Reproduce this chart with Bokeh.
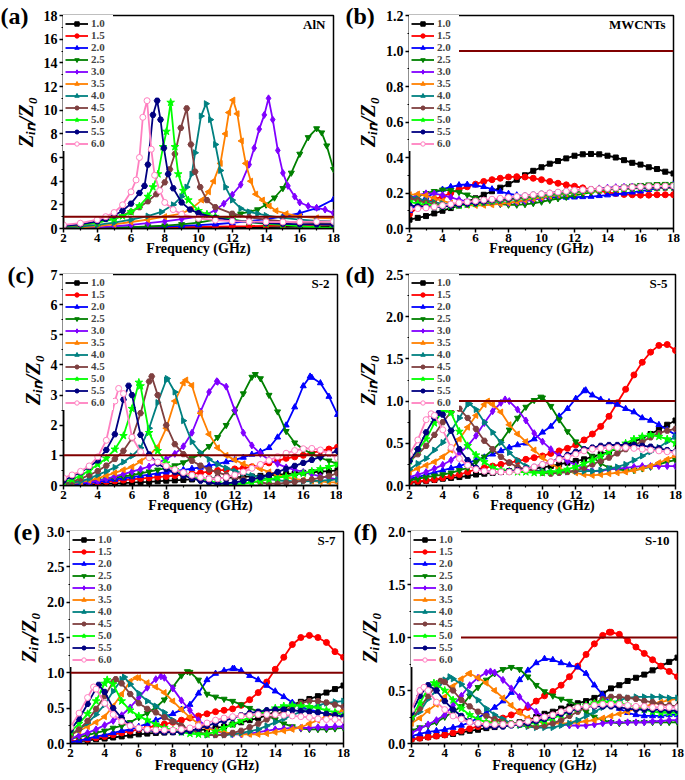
import math
from bokeh.plotting import figure
from bokeh.layouts import column, row
from bokeh.models import (Range1d, FixedTicker, PrintfTickFormatter, Label, Span,
                          Legend, LegendItem, Title)
from bokeh.embed import file_html
from bokeh.resources import INLINE

# ---------------------------------------------------------------- data
THICKNESS = ["1.0", "1.5", "2.0", "2.5", "3.0", "3.5", "4.0", "4.5", "5.0", "5.5", "6.0"]
FREQ = [2.0, 2.5, 3.0, 3.5, 4.0, 4.5, 5.0, 5.5, 6.0, 6.5, 7.0, 7.5, 8.0, 8.5, 9.0, 9.5,
        10.0, 10.5, 11.0, 11.5, 12.0, 12.5, 13.0, 13.5, 14.0, 14.5, 15.0, 15.5, 16.0,
        16.5, 17.0, 17.5, 18.0]
X_TICKS = [2, 4, 6, 8, 10, 12, 14, 16, 18]
REF_LEVEL = 1.0

# (a) AlN  - explicit frequency / value pairs
ALN_F10 = [2, 3, 4, 5, 6, 7, 8, 9, 10, 11, 12, 13, 14, 15, 16, 17, 18]
ALN_Z10 = [0.0, 0.01, 0.02, 0.03, 0.04, 0.05, 0.06, 0.07, 0.08, 0.09, 0.1, 0.11, 0.12, 0.13, 0.15, 0.17, 0.19]
ALN_F15 = [2, 3, 4, 5, 6, 7, 8, 9, 10, 11, 12, 13, 14, 15, 16, 17, 18]
ALN_Z15 = [0.01, 0.02, 0.03, 0.05, 0.06, 0.08, 0.1, 0.12, 0.14, 0.16, 0.18, 0.2, 0.23, 0.26, 0.29, 0.32, 0.36]
ALN_F20 = [2, 3, 4, 5, 6, 7, 8, 9, 10, 11, 12, 13, 14, 15, 16, 17, 18]
ALN_Z20 = [0.02, 0.03, 0.05, 0.07, 0.1, 0.13, 0.17, 0.22, 0.28, 0.36, 0.47, 0.62, 0.8, 1.0, 1.3, 1.72, 2.45]
ALN_F25 = [2, 3, 4, 5, 6, 7, 8, 9, 10, 11, 12, 12.5, 13, 13.5, 14, 14.5, 15, 15.5, 16, 16.5, 17, 17.3, 17.6, 18]
ALN_Z25 = [0.01, 0.03, 0.05, 0.08, 0.12, 0.17, 0.24, 0.35, 0.5, 0.75, 1.05, 1.25, 1.4, 1.6, 2.0, 2.6, 3.4, 4.7, 6.3, 7.7, 8.45, 8.1, 7.0, 5.0]
ALN_F30 = [2, 3, 4, 5, 6, 7, 8, 9, 10, 10.5, 11, 11.5, 12, 12.5, 13, 13.3, 13.6, 13.9, 14.15, 14.4, 14.7, 15, 15.3, 15.7, 16, 16.5, 17, 17.5, 18]
ALN_Z30 = [0.02, 0.05, 0.1, 0.18, 0.3, 0.45, 0.6, 0.8, 1.0, 1.2, 1.55, 2.1, 2.85, 3.7, 5.4, 6.8, 8.4, 9.6, 11.0, 9.2, 6.6, 4.7, 3.6, 2.7, 2.2, 1.9, 1.75, 1.6, 1.3]
ALN_F35 = [2, 3, 4, 5, 6, 7, 8, 9, 9.6, 10.2, 10.6, 10.9, 11.3, 11.6, 11.8, 12.05, 12.3, 12.55, 12.8, 13.1, 13.4, 13.8, 14.2, 14.6, 15.2, 16, 17, 18]
ALN_Z35 = [0.02, 0.08, 0.2, 0.35, 0.55, 0.75, 1.0, 1.25, 1.7, 2.4, 3.1, 4.0, 5.5, 8.0, 9.8, 10.85, 9.7, 7.4, 5.5, 4.0, 2.9, 2.4, 1.9, 1.5, 1.25, 1.0, 0.9, 0.85]
ALN_F40 = [2, 3, 4, 5, 6, 7, 7.8, 8.5, 9, 9.3, 9.6, 9.8, 10.15, 10.45, 10.7, 11, 11.3, 11.6, 12, 12.5, 13, 13.5, 14, 15, 16, 17, 18]
ALN_Z40 = [0.05, 0.15, 0.3, 0.5, 0.75, 1.05, 1.4, 2.0, 2.7, 3.5, 4.6, 6.4, 9.5, 10.55, 9.2, 7.1, 4.9, 3.5, 2.4, 1.7, 1.4, 1.25, 1.1, 0.9, 0.75, 0.65, 0.6]
ALN_F45 = [2, 3, 4, 5, 6, 6.5, 7, 7.5, 8, 8.3, 8.6, 8.95, 9.3, 9.55, 9.8, 10.1, 10.5, 11, 12, 13, 14, 15, 16, 17, 18]
ALN_Z45 = [0.1, 0.25, 0.5, 0.85, 1.4, 1.8, 2.3, 2.9, 3.9, 5.0, 6.3, 8.5, 10.15, 7.1, 4.8, 3.5, 2.4, 1.8, 1.25, 0.95, 0.75, 0.6, 0.5, 0.45, 0.4]
ALN_F50 = [2, 3, 4, 5, 5.5, 6, 6.5, 7, 7.3, 7.6, 7.9, 8.1, 8.35, 8.6, 8.8, 9.1, 9.4, 10, 10.5, 11, 12, 13, 14, 15, 16, 17, 18]
ALN_Z50 = [0.15, 0.3, 0.5, 0.8, 1.05, 1.4, 1.9, 2.7, 3.5, 4.6, 6.9, 8.2, 10.65, 6.9, 4.6, 3.2, 2.4, 1.5, 1.2, 1.0, 0.75, 0.55, 0.4, 0.3, 0.2, 0.1, 0.05]
ALN_F55 = [2, 3, 4, 4.5, 5, 5.5, 6, 6.5, 6.8, 7.0, 7.3, 7.55, 7.75, 7.95, 8.2, 8.5, 9, 9.5, 10, 11, 12, 13, 14, 15, 16, 17, 18]
ALN_Z55 = [0.2, 0.35, 0.6, 0.8, 1.1, 1.5, 2.1, 3.0, 3.6, 5.4, 9.6, 10.8, 9.2, 6.8, 4.6, 3.4, 2.2, 1.6, 1.3, 0.9, 0.7, 0.55, 0.45, 0.4, 0.35, 0.35, 0.35]
ALN_F60 = [2, 3, 4, 4.5, 5, 5.5, 6, 6.3, 6.5, 6.7, 6.95, 7.2, 7.4, 7.7, 8, 8.5, 9, 10, 11, 12, 13, 14, 15, 16, 17, 18]
ALN_Z60 = [0.3, 0.45, 0.75, 1.0, 1.35, 2.0, 3.1, 4.1, 6.0, 9.4, 10.8, 6.7, 4.5, 3.2, 2.2, 1.6, 1.2, 0.85, 0.7, 0.62, 0.58, 0.56, 0.55, 0.56, 0.58, 0.6]

# (b) MWCNTs - values on FREQ
MW_10 = [0.05, 0.06, 0.07, 0.085, 0.10, 0.115, 0.13, 0.15, 0.17, 0.19, 0.21, 0.23, 0.25, 0.275, 0.30, 0.325, 0.345, 0.365, 0.38, 0.395, 0.41, 0.418, 0.42, 0.418, 0.41, 0.40, 0.385, 0.37, 0.36, 0.345, 0.335, 0.32, 0.31]
MW_15 = [0.08, 0.12, 0.145, 0.165, 0.18, 0.20, 0.22, 0.235, 0.25, 0.265, 0.275, 0.283, 0.29, 0.292, 0.29, 0.283, 0.275, 0.265, 0.255, 0.246, 0.238, 0.229, 0.22, 0.212, 0.204, 0.197, 0.192, 0.19, 0.188, 0.188, 0.19, 0.19, 0.19]
MW_20 = [0.10, 0.14, 0.175, 0.20, 0.22, 0.235, 0.245, 0.248, 0.243, 0.235, 0.222, 0.208, 0.196, 0.188, 0.182, 0.178, 0.176, 0.175, 0.175, 0.175, 0.176, 0.178, 0.18, 0.184, 0.188, 0.193, 0.198, 0.204, 0.21, 0.218, 0.226, 0.236, 0.248]
MW_25 = [0.16, 0.18, 0.198, 0.21, 0.218, 0.215, 0.205, 0.19, 0.17, 0.155, 0.145, 0.137, 0.133, 0.133, 0.136, 0.142, 0.15, 0.16, 0.169, 0.177, 0.186, 0.195, 0.204, 0.213, 0.222, 0.229, 0.235, 0.24, 0.244, 0.247, 0.249, 0.25, 0.25]
MW_30 = [0.17, 0.188, 0.198, 0.197, 0.188, 0.175, 0.162, 0.152, 0.145, 0.141, 0.14, 0.141, 0.144, 0.149, 0.155, 0.162, 0.17, 0.179, 0.188, 0.197, 0.205, 0.213, 0.22, 0.226, 0.23, 0.233, 0.235, 0.236, 0.236, 0.236, 0.236, 0.236, 0.236]
MW_35 = [0.19, 0.194, 0.186, 0.17, 0.155, 0.143, 0.135, 0.131, 0.13, 0.131, 0.134, 0.139, 0.145, 0.152, 0.16, 0.168, 0.176, 0.183, 0.19, 0.196, 0.201, 0.206, 0.211, 0.215, 0.219, 0.222, 0.225, 0.227, 0.229, 0.23, 0.231, 0.232, 0.232]
MW_40 = [0.18, 0.168, 0.156, 0.147, 0.14, 0.136, 0.135, 0.137, 0.14, 0.145, 0.15, 0.155, 0.16, 0.166, 0.172, 0.178, 0.185, 0.19, 0.195, 0.20, 0.205, 0.21, 0.214, 0.217, 0.22, 0.223, 0.225, 0.227, 0.228, 0.229, 0.23, 0.23, 0.23]
MW_45 = [0.17, 0.158, 0.146, 0.137, 0.131, 0.129, 0.13, 0.134, 0.139, 0.145, 0.151, 0.157, 0.163, 0.169, 0.176, 0.183, 0.19, 0.195, 0.20, 0.205, 0.209, 0.212, 0.215, 0.218, 0.22, 0.222, 0.224, 0.226, 0.228, 0.229, 0.23, 0.23, 0.23]
MW_50 = [0.15, 0.14, 0.132, 0.127, 0.125, 0.126, 0.13, 0.135, 0.141, 0.148, 0.155, 0.162, 0.169, 0.175, 0.18, 0.185, 0.19, 0.195, 0.20, 0.205, 0.21, 0.213, 0.216, 0.219, 0.221, 0.223, 0.225, 0.227, 0.229, 0.231, 0.232, 0.234, 0.235]
MW_55 = [0.13, 0.124, 0.121, 0.121, 0.124, 0.129, 0.135, 0.14, 0.145, 0.152, 0.16, 0.165, 0.17, 0.177, 0.184, 0.19, 0.195, 0.20, 0.205, 0.209, 0.213, 0.216, 0.219, 0.222, 0.224, 0.226, 0.228, 0.23, 0.231, 0.232, 0.233, 0.234, 0.235]
MW_60 = [0.11, 0.112, 0.116, 0.122, 0.13, 0.137, 0.145, 0.15, 0.155, 0.16, 0.165, 0.17, 0.175, 0.18, 0.185, 0.19, 0.195, 0.20, 0.205, 0.21, 0.215, 0.218, 0.22, 0.223, 0.225, 0.228, 0.23, 0.233, 0.235, 0.237, 0.238, 0.239, 0.24]

# (c) S-2
S2_10 = [0.0, 0.01, 0.02, 0.03, 0.045, 0.06, 0.07, 0.08, 0.095, 0.11, 0.12, 0.14, 0.16, 0.17, 0.185, 0.2, 0.21, 0.225, 0.24, 0.255, 0.27, 0.285, 0.3, 0.32, 0.34, 0.36, 0.38, 0.4, 0.42, 0.44, 0.46, 0.48, 0.5]
S2_15 = [0.02, 0.04, 0.06, 0.08, 0.1, 0.13, 0.15, 0.18, 0.2, 0.23, 0.25, 0.28, 0.3, 0.33, 0.36, 0.39, 0.42, 0.46, 0.5, 0.52, 0.55, 0.58, 0.62, 0.68, 0.75, 0.82, 0.9, 0.95, 1.0, 1.08, 1.15, 1.21, 1.27]
S2_20 = [0.02, 0.04, 0.07, 0.1, 0.13, 0.16, 0.2, 0.24, 0.28, 0.32, 0.36, 0.4, 0.44, 0.48, 0.52, 0.56, 0.6, 0.66, 0.72, 0.78, 0.85, 0.93, 1.03, 1.12, 1.25, 1.6, 2.0, 2.6, 3.3, 3.58, 3.4, 2.95, 2.35]
S2_25 = [0.03, 0.06, 0.1, 0.14, 0.18, 0.22, 0.26, 0.3, 0.34, 0.4, 0.46, 0.52, 0.58, 0.66, 0.76, 0.9, 1.05, 1.3, 1.6, 2.0, 2.45, 3.05, 3.6, 3.55, 3.0, 2.45, 1.8, 1.42, 1.2, 1.05, 0.92, 0.82, 0.72]
S2_30 = [0.05, 0.08, 0.1, 0.13, 0.15, 0.22, 0.3, 0.38, 0.46, 0.54, 0.63, 0.75, 0.88, 1.05, 1.3, 1.75, 2.45, 3.1, 3.44, 3.28, 2.5, 1.75, 1.33, 1.05, 0.85, 0.72, 0.6, 0.52, 0.45, 0.38, 0.3, 0.25, 0.2]
S2_35 = [0.05, 0.08, 0.12, 0.17, 0.24, 0.33, 0.42, 0.52, 0.62, 0.8, 1.0, 1.28, 1.9, 2.8, 3.4, 3.32, 2.4, 1.7, 1.25, 1.0, 0.85, 0.72, 0.62, 0.55, 0.45, 0.35, 0.27, 0.22, 0.18, 0.15, 0.13, 0.11, 0.1]
S2_40 = [0.05, 0.1, 0.14, 0.23, 0.35, 0.47, 0.6, 0.78, 0.98, 1.25, 1.9, 2.75, 3.5, 3.1, 2.15, 1.45, 1.09, 0.87, 0.7, 0.58, 0.48, 0.4, 0.33, 0.27, 0.21, 0.17, 0.15, 0.14, 0.14, 0.15, 0.16, 0.18, 0.2]
S2_45 = [0.05, 0.13, 0.23, 0.34, 0.48, 0.66, 0.88, 1.15, 1.57, 2.4, 3.45, 3.0, 2.0, 1.37, 1.04, 0.82, 0.66, 0.53, 0.43, 0.35, 0.27, 0.2, 0.15, 0.1, 0.06, 0.06, 0.09, 0.12, 0.16, 0.2, 0.25, 0.32, 0.4]
S2_50 = [0.11, 0.2, 0.33, 0.5, 0.7, 0.9, 1.2, 1.65, 2.55, 3.3, 1.75, 1.15, 0.74, 0.52, 0.4, 0.32, 0.22, 0.15, 0.08, 0.04, 0.03, 0.06, 0.1, 0.15, 0.2, 0.25, 0.3, 0.35, 0.4, 0.47, 0.55, 0.62, 0.7]
S2_55 = [0.16, 0.3, 0.44, 0.62, 0.83, 1.18, 1.7, 2.85, 3.0, 1.68, 1.03, 0.73, 0.55, 0.44, 0.33, 0.24, 0.16, 0.1, 0.05, 0.07, 0.1, 0.15, 0.2, 0.27, 0.35, 0.45, 0.55, 0.65, 0.75, 0.85, 0.95, 1.05, 1.15]
S2_60 = [0.25, 0.35, 0.47, 0.65, 0.95, 1.5, 2.8, 3.05, 1.6, 1.12, 0.92, 0.78, 0.65, 0.53, 0.43, 0.34, 0.27, 0.22, 0.22, 0.27, 0.35, 0.45, 0.57, 0.7, 0.83, 0.96, 1.07, 1.16, 1.22, 1.23, 1.18, 1.06, 0.9]
S2_PEAK_F = [None, None, 16.4, 13.2, 10.95, 9.15, 8.05, 7.15, 6.4, 5.8, 5.22]
S2_PEAK_Z = [None, None, 3.62, 3.69, 3.46, 3.5, 3.55, 3.62, 3.42, 3.31, 3.22]

# (d) S-5
S5_10 = [0.03, 0.04, 0.055, 0.065, 0.08, 0.09, 0.1, 0.115, 0.13, 0.14, 0.15, 0.16, 0.17, 0.18, 0.19, 0.2, 0.215, 0.23, 0.25, 0.27, 0.29, 0.31, 0.34, 0.37, 0.4, 0.44, 0.48, 0.52, 0.56, 0.61, 0.66, 0.72, 0.77]
S5_15 = [0.04, 0.05, 0.06, 0.07, 0.09, 0.11, 0.13, 0.16, 0.19, 0.21, 0.23, 0.25, 0.27, 0.29, 0.31, 0.33, 0.35, 0.38, 0.41, 0.44, 0.48, 0.54, 0.61, 0.7, 0.82, 0.98, 1.14, 1.31, 1.46, 1.58, 1.66, 1.67, 1.6]
S5_20 = [0.08, 0.1, 0.13, 0.155, 0.18, 0.205, 0.23, 0.265, 0.3, 0.335, 0.37, 0.41, 0.45, 0.48, 0.5, 0.55, 0.63, 0.7, 0.82, 0.91, 1.03, 1.12, 1.07, 1.02, 0.99, 0.96, 0.91, 0.87, 0.8, 0.77, 0.72, 0.66, 0.6]
S5_25 = [0.06, 0.08, 0.1, 0.115, 0.13, 0.15, 0.18, 0.21, 0.28, 0.34, 0.42, 0.52, 0.66, 0.8, 0.93, 1.01, 1.04, 0.94, 0.78, 0.64, 0.52, 0.43, 0.34, 0.26, 0.21, 0.19, 0.18, 0.18, 0.2, 0.22, 0.25, 0.28, 0.3]
S5_30 = [0.1, 0.13, 0.16, 0.2, 0.245, 0.3, 0.38, 0.47, 0.59, 0.74, 0.88, 0.98, 1.0, 0.9, 0.77, 0.62, 0.52, 0.43, 0.35, 0.29, 0.24, 0.2, 0.17, 0.17, 0.19, 0.2, 0.21, 0.22, 0.23, 0.23, 0.23, 0.23, 0.23]
S5_35 = [0.16, 0.2, 0.24, 0.28, 0.34, 0.42, 0.55, 0.69, 0.83, 0.96, 0.96, 0.87, 0.72, 0.61, 0.52, 0.42, 0.33, 0.26, 0.2, 0.17, 0.15, 0.13, 0.12, 0.13, 0.14, 0.15, 0.16, 0.18, 0.2, 0.23, 0.27, 0.31, 0.35]
S5_40 = [0.19, 0.26, 0.32, 0.42, 0.51, 0.65, 0.8, 0.96, 0.9, 0.75, 0.63, 0.51, 0.39, 0.3, 0.23, 0.18, 0.17, 0.16, 0.16, 0.16, 0.17, 0.17, 0.17, 0.18, 0.2, 0.22, 0.25, 0.3, 0.35, 0.4, 0.45, 0.52, 0.58]
S5_45 = [0.29, 0.37, 0.47, 0.6, 0.75, 0.87, 0.91, 0.8, 0.67, 0.53, 0.43, 0.34, 0.27, 0.22, 0.19, 0.17, 0.15, 0.14, 0.15, 0.16, 0.18, 0.21, 0.25, 0.29, 0.33, 0.38, 0.43, 0.48, 0.52, 0.57, 0.62, 0.65, 0.67]
S5_50 = [0.29, 0.42, 0.55, 0.74, 0.89, 0.86, 0.64, 0.47, 0.36, 0.28, 0.21, 0.18, 0.17, 0.16, 0.16, 0.15, 0.15, 0.16, 0.17, 0.19, 0.22, 0.26, 0.3, 0.35, 0.4, 0.45, 0.5, 0.55, 0.58, 0.6, 0.58, 0.55, 0.5]
S5_55 = [0.29, 0.43, 0.63, 0.8, 0.84, 0.65, 0.43, 0.3, 0.21, 0.17, 0.16, 0.16, 0.17, 0.18, 0.2, 0.22, 0.25, 0.28, 0.32, 0.36, 0.4, 0.43, 0.45, 0.47, 0.48, 0.48, 0.48, 0.48, 0.47, 0.46, 0.44, 0.42, 0.4]
S5_60 = [0.37, 0.54, 0.78, 0.83, 0.66, 0.45, 0.32, 0.24, 0.19, 0.17, 0.16, 0.16, 0.16, 0.17, 0.19, 0.22, 0.25, 0.28, 0.31, 0.34, 0.37, 0.41, 0.43, 0.44, 0.45, 0.45, 0.45, 0.44, 0.43, 0.42, 0.41, 0.4, 0.39]
S5_PEAK_F = [None, None, 12.6, 9.9, 7.75, 6.7, 5.6, 4.75, 4.1, 3.75, 3.3]
S5_PEAK_Z = [None, None, 1.13, 1.05, 1.02, 1.0, 0.97, 0.93, 0.9, 0.86, 0.85]

# (e) S-7
S7_10 = [0.02, 0.03, 0.045, 0.06, 0.07, 0.085, 0.1, 0.115, 0.13, 0.14, 0.15, 0.155, 0.16, 0.17, 0.18, 0.19, 0.2, 0.22, 0.24, 0.27, 0.3, 0.33, 0.36, 0.4, 0.45, 0.5, 0.55, 0.59, 0.63, 0.67, 0.72, 0.77, 0.82]
S7_15 = [0.03, 0.04, 0.06, 0.08, 0.1, 0.125, 0.15, 0.175, 0.2, 0.225, 0.25, 0.275, 0.3, 0.33, 0.36, 0.39, 0.42, 0.45, 0.47, 0.49, 0.54, 0.62, 0.72, 0.87, 1.05, 1.22, 1.4, 1.5, 1.53, 1.5, 1.43, 1.3, 1.22]
S7_20 = [0.02, 0.04, 0.07, 0.1, 0.12, 0.15, 0.18, 0.2, 0.24, 0.28, 0.33, 0.38, 0.42, 0.48, 0.55, 0.71, 0.9, 0.99, 1.03, 1.06, 1.03, 0.96, 0.9, 0.82, 0.74, 0.66, 0.58, 0.52, 0.48, 0.45, 0.42, 0.42, 0.47]
S7_25 = [0.07, 0.09, 0.12, 0.15, 0.18, 0.22, 0.25, 0.3, 0.37, 0.43, 0.51, 0.62, 0.8, 0.96, 1.01, 0.9, 0.7, 0.66, 0.63, 0.6, 0.55, 0.5, 0.45, 0.4, 0.34, 0.28, 0.24, 0.21, 0.2, 0.2, 0.2, 0.21, 0.22]
S7_30 = [0.07, 0.11, 0.15, 0.2, 0.26, 0.32, 0.4, 0.51, 0.65, 0.79, 0.91, 0.93, 0.78, 0.61, 0.47, 0.33, 0.24, 0.18, 0.14, 0.13, 0.13, 0.14, 0.16, 0.18, 0.2, 0.21, 0.22, 0.22, 0.22, 0.23, 0.23, 0.24, 0.24]
S7_35 = [0.12, 0.18, 0.24, 0.3, 0.38, 0.53, 0.7, 0.88, 0.93, 0.86, 0.8, 0.72, 0.6, 0.48, 0.37, 0.28, 0.22, 0.18, 0.16, 0.14, 0.13, 0.13, 0.13, 0.14, 0.16, 0.18, 0.2, 0.23, 0.28, 0.33, 0.38, 0.43, 0.47]
S7_40 = [0.12, 0.2, 0.29, 0.41, 0.55, 0.74, 0.91, 0.84, 0.71, 0.6, 0.53, 0.44, 0.33, 0.25, 0.19, 0.15, 0.12, 0.12, 0.12, 0.13, 0.15, 0.17, 0.2, 0.25, 0.3, 0.35, 0.4, 0.45, 0.5, 0.54, 0.57, 0.59, 0.6]
S7_45 = [0.12, 0.2, 0.32, 0.49, 0.67, 0.87, 0.85, 0.7, 0.57, 0.49, 0.44, 0.37, 0.31, 0.25, 0.2, 0.16, 0.13, 0.12, 0.12, 0.15, 0.18, 0.23, 0.28, 0.34, 0.4, 0.46, 0.52, 0.57, 0.6, 0.6, 0.58, 0.55, 0.52]
S7_50 = [0.16, 0.28, 0.42, 0.6, 0.85, 0.84, 0.6, 0.47, 0.39, 0.33, 0.27, 0.22, 0.19, 0.16, 0.14, 0.13, 0.13, 0.17, 0.22, 0.27, 0.32, 0.37, 0.42, 0.46, 0.5, 0.53, 0.54, 0.53, 0.52, 0.5, 0.47, 0.44, 0.4]
S7_55 = [0.19, 0.35, 0.56, 0.78, 0.73, 0.5, 0.36, 0.26, 0.21, 0.19, 0.17, 0.16, 0.16, 0.16, 0.18, 0.21, 0.25, 0.29, 0.32, 0.36, 0.4, 0.43, 0.45, 0.47, 0.48, 0.48, 0.47, 0.46, 0.45, 0.44, 0.42, 0.4, 0.38]
S7_60 = [0.23, 0.43, 0.65, 0.77, 0.57, 0.41, 0.31, 0.25, 0.22, 0.2, 0.19, 0.19, 0.19, 0.2, 0.22, 0.25, 0.29, 0.33, 0.36, 0.38, 0.39, 0.4, 0.41, 0.41, 0.41, 0.4, 0.39, 0.38, 0.37, 0.35, 0.34, 0.34, 0.33]
S7_PEAK_F = [None, None, 11.6, 8.85, 7.3, 5.85, 5.15, 4.65, 4.15, 3.65, 3.35]
S7_PEAK_Z = [None, None, 1.06, 1.02, 0.95, 0.93, 0.94, 0.91, 0.9, 0.83, 0.8]

# (f) S-10
S10_10 = [0.04, 0.05, 0.06, 0.07, 0.08, 0.09, 0.105, 0.12, 0.13, 0.145, 0.155, 0.17, 0.18, 0.2, 0.22, 0.25, 0.28, 0.3, 0.33, 0.35, 0.38, 0.4, 0.43, 0.47, 0.52, 0.55, 0.59, 0.62, 0.65, 0.69, 0.73, 0.77, 0.81]
S10_15 = [0.04, 0.05, 0.06, 0.07, 0.08, 0.1, 0.12, 0.14, 0.16, 0.19, 0.21, 0.24, 0.27, 0.3, 0.34, 0.4, 0.45, 0.49, 0.55, 0.63, 0.73, 0.84, 0.94, 1.02, 1.05, 1.03, 0.97, 0.91, 0.85, 0.79, 0.73, 0.68, 0.63]
S10_20 = [0.07, 0.09, 0.11, 0.12, 0.13, 0.15, 0.17, 0.2, 0.24, 0.29, 0.34, 0.4, 0.48, 0.6, 0.69, 0.76, 0.8, 0.79, 0.76, 0.74, 0.72, 0.66, 0.55, 0.46, 0.38, 0.33, 0.29, 0.27, 0.26, 0.26, 0.26, 0.27, 0.27]
S10_25 = [0.12, 0.15, 0.17, 0.2, 0.25, 0.3, 0.35, 0.45, 0.53, 0.6, 0.66, 0.7, 0.72, 0.7, 0.63, 0.55, 0.49, 0.45, 0.42, 0.4, 0.36, 0.3, 0.25, 0.22, 0.2, 0.19, 0.2, 0.2, 0.2, 0.2, 0.2, 0.2, 0.2]
S10_30 = [0.1, 0.14, 0.18, 0.22, 0.27, 0.36, 0.45, 0.55, 0.62, 0.67, 0.67, 0.6, 0.52, 0.44, 0.36, 0.3, 0.25, 0.21, 0.18, 0.17, 0.17, 0.17, 0.18, 0.19, 0.2, 0.2, 0.2, 0.2, 0.2, 0.21, 0.21, 0.22, 0.22]
S10_35 = [0.19, 0.24, 0.31, 0.37, 0.44, 0.54, 0.61, 0.66, 0.62, 0.57, 0.5, 0.43, 0.36, 0.29, 0.24, 0.21, 0.19, 0.19, 0.19, 0.19, 0.2, 0.21, 0.22, 0.24, 0.26, 0.28, 0.3, 0.33, 0.35, 0.37, 0.39, 0.41, 0.42]
S10_40 = [0.23, 0.3, 0.42, 0.5, 0.6, 0.61, 0.56, 0.48, 0.41, 0.33, 0.27, 0.23, 0.19, 0.17, 0.16, 0.15, 0.15, 0.15, 0.17, 0.19, 0.22, 0.26, 0.3, 0.34, 0.38, 0.41, 0.43, 0.44, 0.44, 0.44, 0.44, 0.43, 0.43]
S10_45 = [0.23, 0.33, 0.45, 0.55, 0.58, 0.5, 0.41, 0.35, 0.3, 0.26, 0.23, 0.2, 0.19, 0.18, 0.17, 0.16, 0.17, 0.19, 0.22, 0.26, 0.3, 0.34, 0.38, 0.42, 0.44, 0.44, 0.43, 0.42, 0.4, 0.39, 0.37, 0.36, 0.35]
S10_50 = [0.25, 0.38, 0.52, 0.56, 0.5, 0.41, 0.33, 0.27, 0.23, 0.2, 0.19, 0.18, 0.18, 0.18, 0.18, 0.2, 0.21, 0.24, 0.27, 0.3, 0.33, 0.36, 0.38, 0.39, 0.39, 0.38, 0.36, 0.34, 0.32, 0.3, 0.29, 0.29, 0.29]
S10_55 = [0.29, 0.45, 0.55, 0.5, 0.4, 0.32, 0.26, 0.21, 0.18, 0.16, 0.16, 0.16, 0.17, 0.18, 0.19, 0.21, 0.23, 0.26, 0.28, 0.3, 0.33, 0.35, 0.35, 0.35, 0.35, 0.34, 0.33, 0.32, 0.32, 0.32, 0.32, 0.31, 0.31]
S10_60 = [0.32, 0.5, 0.5, 0.39, 0.32, 0.26, 0.23, 0.2, 0.19, 0.18, 0.18, 0.18, 0.18, 0.19, 0.21, 0.23, 0.25, 0.27, 0.3, 0.32, 0.34, 0.35, 0.36, 0.37, 0.37, 0.37, 0.36, 0.35, 0.35, 0.34, 0.34, 0.34, 0.34]
S10_PEAK_F = [None, 13.9, None, None, 6.75, 5.45, 4.3, 3.75, 3.35, None, 2.75]
S10_PEAK_Z = [None, 1.05, None, None, 0.68, 0.66, 0.63, 0.59, 0.57, None, 0.53]

Y_TICKS_A = [0, 2, 4, 6, 8, 10, 12, 14, 16, 18]
Y_TICKS_B = [0.0, 0.2, 0.4, 0.6, 0.8, 1.0, 1.2]
Y_TICKS_C = [0, 1, 2, 3, 4, 5, 6, 7]
Y_TICKS_D = [0.0, 0.5, 1.0, 1.5, 2.0, 2.5]
Y_TICKS_E = [0.0, 0.5, 1.0, 1.5, 2.0, 2.5, 3.0]
Y_TICKS_F = [0.0, 0.5, 1.0, 1.5, 2.0]

# ---------------------------------------------------------------- style
COLORS = ["#000000", "#FF0000", "#0000FF", "#008000", "#8000FF", "#FF8000",
          "#008080", "#7F4040", "#00FF00", "#000080", "#FF80C0"]
MARKERS = ["square", "circle", "triangle", "inverted_triangle", "diamond", "triangle",
           "triangle", "hex", "star", "hex", "circle"]
ANGLES = [0, 0, 0, 0, 0, math.pi / 2, -math.pi / 2, 0, 0, 0, 0]
SIZES = [5, 6, 6, 6, 7, 6, 6, 6, 8, 6, 6]
FILLS = COLORS[:10] + ["white"]
SERIF = "Liberation Serif"
TAG_SIZE = 24
TAG_STANDOFF = -27
Y_LABEL = "Z\u1d62\u2099/Z\u2080"


def minor_of(t):
    return [(a + b) / 2 for a, b in zip(t, t[1:])]


def grid_series(ys_list, pk_f, pk_z):
    out = []
    for ys, pf, pz in zip(ys_list, pk_f, pk_z):
        pts = list(zip(FREQ, ys))
        if pf is not None and pf not in FREQ:
            pts.append((pf, pz))
            pts.sort()
        out.append(([q[0] for q in pts], [q[1] for q in pts]))
    return out


def panel(tag, sample, series, ylim, yticks, yfmt, frame, tag_dx, xlab_standoff):
    L, fw, R, T, fh, B = frame
    p = figure(width=L + fw + R, height=T + fh + B, x_range=Range1d(2, 18),
               y_range=Range1d(*ylim), output_backend="svg", toolbar_location=None,
               title=None, min_border_left=L, min_border_right=R,
               min_border_top=T, min_border_bottom=B)
    p.background_fill_color = "white"
    p.border_fill_color = "white"
    p.grid.visible = False
    p.outline_line_color = "black"
    p.outline_line_width = 1.5
    p.outline_line_alpha = 1.0
    p.xaxis.ticker = FixedTicker(ticks=X_TICKS, minor_ticks=minor_of(X_TICKS))
    p.yaxis.ticker = FixedTicker(ticks=yticks, minor_ticks=minor_of(yticks))
    p.xaxis.formatter = PrintfTickFormatter(format="%d")
    p.yaxis.formatter = PrintfTickFormatter(format=yfmt)
    for ax in (p.xaxis[0], p.yaxis[0]):
        ax.axis_line_width = 1.5
        ax.major_tick_line_width = 1.5
        ax.minor_tick_line_width = 1.2
        ax.major_tick_out = 4
        ax.major_tick_in = 0
        ax.minor_tick_out = 2
        ax.minor_tick_in = 0
        ax.major_label_text_font = SERIF
        ax.major_label_text_font_style = "bold"
        ax.major_label_text_color = "black"
        ax.axis_label_text_font = SERIF
        ax.axis_label_text_color = "black"
    xa, ya = p.xaxis[0], p.yaxis[0]
    xa.major_label_text_font_size = "13px"
    xa.major_label_standoff = 1
    xa.axis_label = "Frequency (GHz)"
    xa.axis_label_text_font_style = "bold"
    xa.axis_label_text_font_size = "14px"
    xa.axis_label_standoff = xlab_standoff
    ya.major_label_text_font_size = "14px"
    ya.major_label_standoff = 2
    ya.axis_label = Y_LABEL
    ya.axis_label_text_font_style = "bold italic"
    ya.axis_label_text_font_size = "21px"
    ya.axis_label_standoff = 3

    items = []
    for i, (xs, ys) in enumerate(series):
        ln = p.line(xs, ys, line_color=COLORS[i], line_width=1.8)
        sc = p.scatter(xs, ys, marker=MARKERS[i], size=SIZES[i], angle=ANGLES[i],
                       fill_color=FILLS[i], line_color=COLORS[i], line_width=1)
        items.append(LegendItem(label=THICKNESS[i], renderers=[ln, sc]))

    p.add_layout(Span(location=REF_LEVEL, dimension="width", line_color="#800000",
                      line_width=2))
    leg = Legend(items=items, location="top_left", margin=0, padding=2, spacing=0,
                 label_text_font=SERIF, label_text_font_style="bold",
                 label_text_font_size="11px", label_height=11, glyph_height=11,
                 glyph_width=23, label_standoff=3, border_line_alpha=0,
                 background_fill_color="white", background_fill_alpha=1.0)
    p.add_layout(leg)

    p.add_layout(Label(x=fw - 8, y=fh - 9, x_units="screen", y_units="screen", text=sample,
                       text_align="right", text_baseline="middle", text_font=SERIF,
                       text_font_style="bold", text_font_size="13px", text_color="black"))

    # panel tag: a title in the top border whose reserved height is almost nil, so
    # that it sits beside the top of the y axis
    p.add_layout(Title(text=f"({tag})", align="left", offset=tag_dx,
                       vertical_align="bottom", standoff=TAG_STANDOFF,
                       text_font=SERIF, text_font_style="bold",
                       text_font_size=f"{TAG_SIZE}px", text_color="black"), "above")
    return p


aln_series = [(ALN_F10, ALN_Z10), (ALN_F15, ALN_Z15), (ALN_F20, ALN_Z20), (ALN_F25, ALN_Z25),
              (ALN_F30, ALN_Z30), (ALN_F35, ALN_Z35), (ALN_F40, ALN_Z40), (ALN_F45, ALN_Z45),
              (ALN_F50, ALN_Z50), (ALN_F55, ALN_Z55), (ALN_F60, ALN_Z60)]
none11 = [None] * 11
mw_series = grid_series([MW_10, MW_15, MW_20, MW_25, MW_30, MW_35, MW_40, MW_45, MW_50, MW_55, MW_60], none11, none11)
s2_series = grid_series([S2_10, S2_15, S2_20, S2_25, S2_30, S2_35, S2_40, S2_45, S2_50, S2_55, S2_60], S2_PEAK_F, S2_PEAK_Z)
s5_series = grid_series([S5_10, S5_15, S5_20, S5_25, S5_30, S5_35, S5_40, S5_45, S5_50, S5_55, S5_60], S5_PEAK_F, S5_PEAK_Z)
s7_series = grid_series([S7_10, S7_15, S7_20, S7_25, S7_30, S7_35, S7_40, S7_45, S7_50, S7_55, S7_60], S7_PEAK_F, S7_PEAK_Z)
s10_series = grid_series([S10_10, S10_15, S10_20, S10_25, S10_30, S10_35, S10_40, S10_45, S10_50, S10_55, S10_60], S10_PEAK_F, S10_PEAK_Z)

# frame = (left border, frame width, right border, top border, frame height, bottom border)
pa = panel("a", "AlN", aln_series, (0, 18), Y_TICKS_A, "%d", (63, 270, 9, 15, 213, 32), -63, -4)
pb = panel("b", "MWCNTs", mw_series, (0, 1.2), Y_TICKS_B, "%.1f", (67, 264, 12, 15, 213, 32), -64, -4)
pc = panel("c", "S-2", s2_series, (0, 7), Y_TICKS_C, "%d", (63, 274, 5, 14, 211, 32), -56, -4)
pd_ = panel("d", "S-5", s5_series, (0, 2.5), Y_TICKS_D, "%.1f", (67, 266, 10, 14, 211, 32), -64, -4)
pe = panel("e", "S-7", s7_series, (0, 3.0), Y_TICKS_E, "%.1f", (70, 273, 8, 14, 212, 37), -57, -2)
pf = panel("f", "S-10", s10_series, (0, 2.0), Y_TICKS_F, "%.1f", (60, 266, 8, 14, 212, 37), -58, -2)

layout = column(row(pa, pb), row(pc, pd_), row(pe, pf))
open("out.html", "w").write(file_html(layout, INLINE))
